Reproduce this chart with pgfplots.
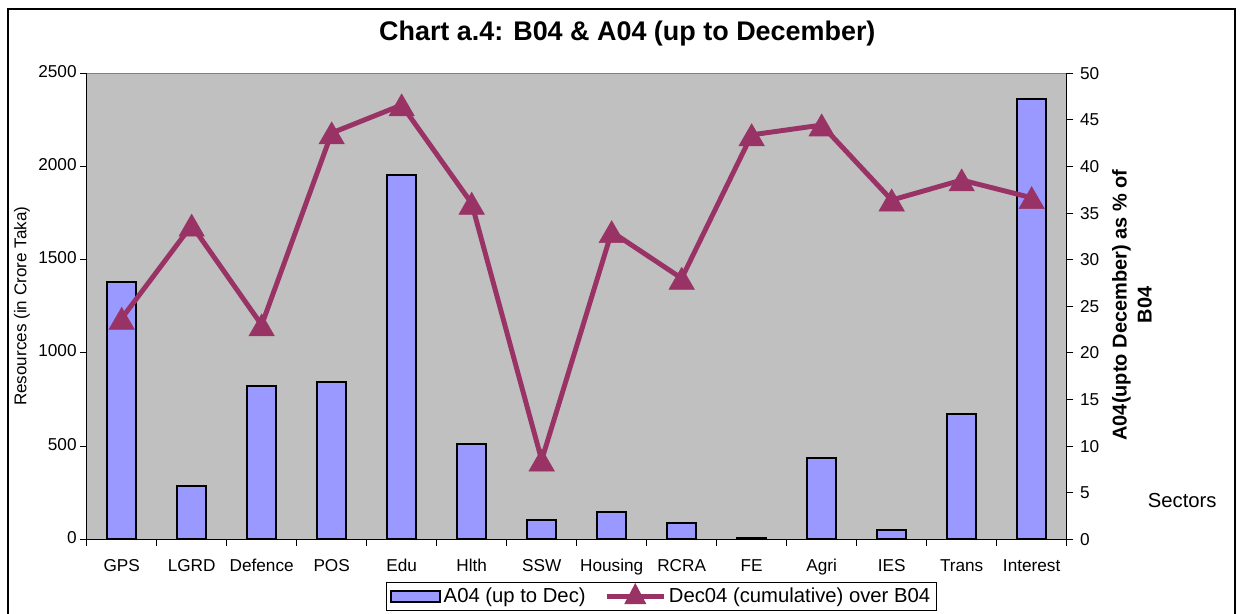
\documentclass[border=0pt]{standalone}
\usepackage{fontspec}
\setmainfont{Liberation Sans}
\usepackage{pgfplots}
\pgfplotsset{compat=1.18}
\definecolor{barblue}{HTML}{9999FF}
\definecolor{plum}{HTML}{993366}
\definecolor{plotgray}{HTML}{C0C0C0}
\newcommand{\tickfont}{\fontsize{12.9}{15}\selectfont}
\newcommand{\legfont}{\fontsize{15.2}{18}\selectfont}
\pgfplotsset{
  barlegend/.style={legend image code/.code={\draw[##1, line width=1.3pt] (0pt,-4pt) rectangle (37pt,4pt);}},
  linelegend/.style={legend image code/.code={\draw[##1] (0pt,0pt) -- (43pt,0pt); \fill[plum] (21.5pt,6.5pt) -- (27pt,-4pt) -- (16pt,-4pt) -- cycle;}},
}

\begin{document}
\begin{tikzpicture}
\useasboundingbox (0,0) rectangle (932.25pt,460.5pt);
\draw[line width=0.9pt] (6pt,-5pt) -- (6pt,453.75pt) -- (926.25pt,453.75pt) -- (926.25pt,-5pt);
\node[font=\fontsize{20.2}{24}\selectfont\bfseries] at (470.5pt,435pt) {Chart a.4: B04 \& A04 (up to December)};

\begin{axis}[
  at={(65pt,56pt)}, anchor=south west,
  width=735pt, height=349.5pt, scale only axis,
  xmin=-0.5, xmax=13.5, ymin=0, ymax=2500,
  axis background/.style={fill=plotgray},
  axis x line*=bottom, axis y line*=left,
  axis line style={-, line width=0.75pt, black},
  xtick={-0.5,0.5,...,13.5},
  x tick label as interval,
  xticklabels={GPS,LGRD,Defence,POS,Edu,Hlth,SSW,Housing,RCRA,FE,Agri,IES,Trans,Interest},
  typeset ticklabels with strut,
  xticklabel style={yshift=-5pt},
  ytick={0,500,...,2500},
  tick align=outside,
  major tick length=5pt,
  tick style={black, line width=0.75pt},
  tick label style={font=\tickfont},
  yticklabel style={xshift=1pt},
  /pgf/number format/assume math mode=true,
  /pgf/number format/1000 sep={},
  ylabel={Resources (in Crore Taka)},
  ylabel style={font=\fontsize{12.8}{15}\selectfont, at={(axis description cs:-0.066,0.5)}, anchor=center},
  legend style={at={(axis description cs:0.5865,-0.1227)}, anchor=center, draw=black, line width=0.75pt,
    legend columns=2, font=\legfont, inner xsep=3pt, inner ysep=2pt,
    /tikz/every even column/.append style={column sep=12pt}},
  legend cell align=left,
  ybar, bar width=21.5pt,
]
\addplot[fill=barblue, draw=black, line width=1.6pt, barlegend]
  coordinates {(0,1382) (1,286) (2,824) (3,846) (4,1954) (5,510) (6,104) (7,145) (8,89) (9,5) (10,438) (11,48) (12,671) (13,2362)};
\addlegendentry{A04 (up to Dec)}
\addlegendimage{plum, line width=3.4pt, linelegend}
\addlegendentry{Dec04 (cumulative) over B04}
\draw[black!50, line width=0.75pt] (rel axis cs:0,1) -- (rel axis cs:1,1);
\end{axis}

\begin{axis}[
  at={(65pt,56pt)}, anchor=south west,
  width=735pt, height=349.5pt, scale only axis,
  xmin=-0.5, xmax=13.5, ymin=0, ymax=50,
  axis x line=none, axis y line*=right,
  axis line style={-, line width=0.75pt, black},
  ytick={0,5,...,50},
  tick align=outside, major tick length=5pt,
  tick style={black, line width=0.75pt},
  tick label style={font=\tickfont},
  yticklabel style={xshift=1.5pt},
  /pgf/number format/assume math mode=true,
]
\addplot[plum, line width=3.7pt, mark=triangle*, mark size=11pt,
  mark options={solid, line width=0.4pt, yshift=-2.7pt}]
  coordinates {(0,23.7) (1,33.7) (2,23.0) (3,43.6) (4,46.6) (5,36.05) (6,8.5) (7,33.0) (8,28.0) (9,43.4) (10,44.45) (11,36.4) (12,38.55) (13,36.65)};
\end{axis}

\node[rotate=90, font=\fontsize{15}{18.75}\selectfont\bfseries, align=center] at (849pt,231.75pt) {A04(upto December) as \% of\\B04};
\node[font=\fontsize{15.2}{18}\selectfont] at (886.7pt,85pt) {Sectors};
\end{tikzpicture}
\end{document}
